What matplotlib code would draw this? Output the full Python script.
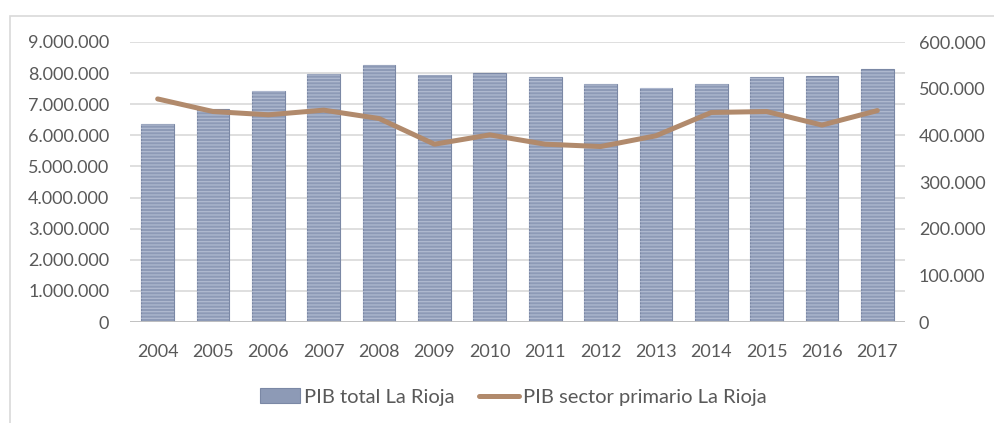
import numpy as np
import matplotlib
matplotlib.use('Agg')
import matplotlib.pyplot as plt
from matplotlib.patches import Rectangle
from matplotlib.ticker import FuncFormatter

years = ['2004', '2005', '2006', '2007', '2008', '2009', '2010',
         '2011', '2012', '2013', '2014', '2015', '2016', '2017']
pib_total = [6350000, 6840000, 7410000, 7970000, 8270000, 7950000, 8000000,
             7890000, 7650000, 7520000, 7650000, 7860000, 7910000, 8130000]
pib_primario = [478000, 451000, 444000, 454000, 436000, 381000, 401000,
                381000, 376000, 399000, 449000, 451000, 422000, 453000]

plt.rcParams['font.family'] = ['Lato', 'DejaVu Sans']
txt = '#595959'

fig = plt.figure(figsize=(9.95, 4.23), dpi=100)
# light frame of the chart area
fig.patches.append(Rectangle((10/995, -0.05), 1.0, 1 - 16/423 + 0.05,
                             transform=fig.transFigure, facecolor='none',
                             edgecolor='#d9d9d9', linewidth=1.2))

ax = fig.add_axes([130/995, 1 - 322/423, 775/995, 280/423])
X = np.arange(len(years))

ax.bar(X, pib_total, width=0.59, color='#8d9ab6', edgecolor='#7b88a5',
       linewidth=0.8, zorder=2, label='PIB total La Rioja')
plt.rcParams['hatch.linewidth'] = 0.9
ax.bar(X, pib_total, width=0.59, facecolor='none', edgecolor='#b0bad0',
       hatch='-----', linewidth=0, zorder=3)

ax.set_ylim(0, 9000000)
ax.set_yticks(np.arange(0, 9000001, 1000000))
ax.set_xlim(-0.5, len(years) - 0.5)
ax.set_xticks(X)
ax.set_xticklabels(years)
fmt = FuncFormatter(lambda v, p: '{:,.0f}'.format(v).replace(',', '.'))
ax.yaxis.set_major_formatter(fmt)
ax.grid(axis='y', color='#d9d9d9', linewidth=1.2, zorder=0)
ax.set_axisbelow(True)
for s in ax.spines.values():
    s.set_visible(False)
ax.axhline(0, color='#bfbfbf', linewidth=2, zorder=4)
ax.tick_params(axis='both', length=0, labelsize=13, colors=txt)
ax.tick_params(axis='y', pad=15)
ax.tick_params(axis='x', pad=16)

ax2 = ax.twinx()
ax2.plot(X, pib_primario, color='#b18a6c', linewidth=3.6,
         solid_joinstyle='round', solid_capstyle='round', zorder=5,
         label='PIB sector primario La Rioja')
ax2.set_ylim(0, 600000)
ax2.set_yticks(np.arange(0, 600001, 100000))
ax2.yaxis.set_major_formatter(fmt)
for s in ax2.spines.values():
    s.set_visible(False)
ax2.tick_params(axis='y', length=0, labelsize=13, colors=txt, pad=10)

h1, l1 = ax.get_legend_handles_labels()
h2, l2 = ax2.get_legend_handles_labels()
fig.legend(h1 + h2, l1 + l2, loc='center', bbox_to_anchor=(513/995, 1 - 397/423),
           ncol=2, frameon=False, fontsize=14.5, labelcolor=txt,
           handlelength=2.0, handletextpad=0.2, columnspacing=1.2)

fig.savefig('out.png', dpi=100)
